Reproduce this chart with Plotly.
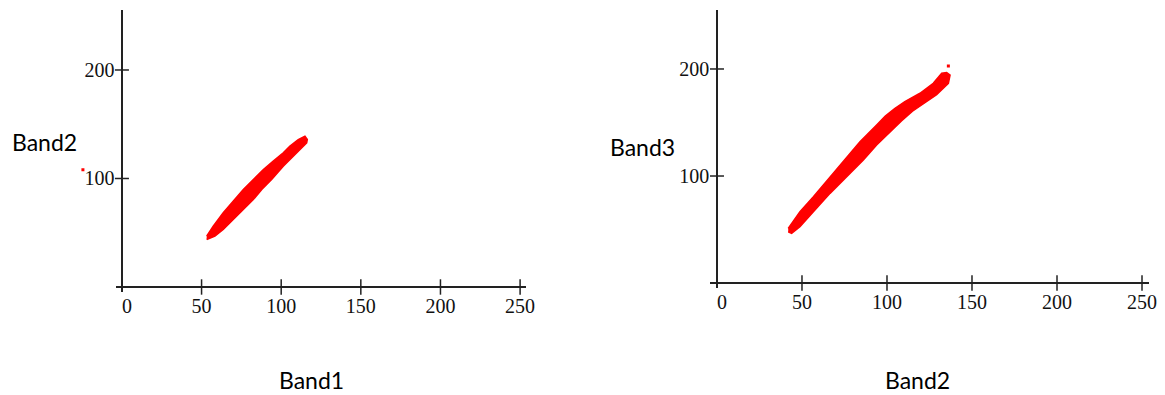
import plotly.graph_objects as go

# ---- data ----
x_ticks = [0, 50, 100, 150, 200, 250]
x_tick_text = ["\u00a0\u00a00", "50", "100", "150", "200", "250"]
y_ticks = [100, 200]
y_tick_text = ["100", "200"]

# Left panel: Band1 (x) vs Band2 (y) scatter cloud outline
left_upper_x = [53.2, 57.3, 63.6, 69.9, 76.2, 82.5, 88.8, 95.0, 101.3, 105.5, 110.7, 114.9, 116.4]
left_upper_y = [46.8, 56.0, 68.4, 79.1, 89.9, 99.1, 108.3, 116.0, 123.7, 129.8, 135.9, 139.0, 135.9]
left_lower_x = [116.0, 112.9, 107.6, 101.3, 94.0, 87.8, 82.5, 76.2, 69.9, 63.6, 58.4, 53.2]
left_lower_y = [132.9, 128.3, 120.6, 111.3, 99.1, 89.9, 80.6, 71.4, 62.2, 53.0, 46.8, 43.8]
left_outlier_x = [-24.5]
left_outlier_y = [108.0]

# Right panel: Band2 (x) vs Band3 (y) scatter cloud outline
right_upper_x = [41.9, 48.8, 56.7, 66.5, 76.3, 84.1, 93.9, 99.0, 104.5, 110.5, 119.4, 127.2, 132.2, 135.1]
right_upper_y = [51.1, 66.6, 80.7, 99.3, 118.0, 132.1, 147.7, 156.0, 163.0, 169.5, 177.3, 186.6, 196.0, 196.6]
right_lower_x = [137.1, 136.1, 129.2, 121.4, 115.0, 108.5, 101.8, 93.9, 86.1, 76.3, 66.5, 56.7, 48.8, 43.9, 41.9]
right_lower_y = [194.4, 186.6, 176.0, 167.5, 160.5, 151.5, 141.4, 129.0, 115.0, 99.3, 83.8, 66.6, 52.6, 46.4, 47.9]
right_outlier_x = [136.1]
right_outlier_y = [202.8]

labels = {"left_x": "Band1", "left_y": "Band2", "right_x": "Band2", "right_y": "Band3"}

RED = "#ff0000"
AX = "#222222"
TICK_FONT = dict(family="Liberation Serif, serif", size=20, color="#111111")
TITLE_FONT = dict(family="Lato, Open Sans, sans-serif", size=23, color="#000000")

X_RANGE = [-4, 254]
Y_RANGE = [-5, 255]
LEFT_XDOM = [0.0992, 0.4519]
LEFT_YDOM = [0.2597, 0.9739]
RIGHT_XDOM = [0.6096, 0.9861]
RIGHT_YDOM = [0.2699, 0.9744]

fig = go.Figure()


def add_panel(xa, ya, ux, uy, lx, ly, ox, oy, oxa, oya):
    fig.add_trace(go.Scatter(
        x=ux + lx, y=uy + ly, xaxis=xa, yaxis=ya, mode="lines",
        fill="toself", fillcolor=RED, line=dict(color=RED, width=1.5),
        showlegend=False, hoverinfo="skip"))
    # stray point(s): drawn on a wider, invisible axis pair with the same scale
    fig.add_trace(go.Scatter(
        x=ox, y=oy, xaxis=oxa, yaxis=oya, mode="markers",
        marker=dict(color=RED, size=3, symbol="square"),
        showlegend=False, hoverinfo="skip"))
    # crossing tick marks on the axes
    fig.add_trace(go.Scatter(
        x=x_ticks[1:], y=[0] * (len(x_ticks) - 1), xaxis=xa, yaxis=ya,
        mode="markers", cliponaxis=False,
        marker=dict(symbol="line-ns", size=11, line=dict(color=AX, width=1.5)),
        showlegend=False, hoverinfo="skip"))
    fig.add_trace(go.Scatter(
        x=[0] * len(y_ticks), y=y_ticks, xaxis=xa, yaxis=ya,
        mode="markers", cliponaxis=False,
        marker=dict(symbol="line-ew", size=10, line=dict(color=AX, width=1.5)),
        showlegend=False, hoverinfo="skip"))


add_panel("x", "y", left_upper_x, left_upper_y, left_lower_x, left_lower_y,
          left_outlier_x, left_outlier_y, "x3", "y3")
add_panel("x2", "y2", right_upper_x, right_upper_y, right_lower_x, right_lower_y,
          right_outlier_x, right_outlier_y, "x2", "y2")

xcommon = dict(range=X_RANGE, showgrid=False, showline=False, ticks="",
               zeroline=True, zerolinecolor=AX, zerolinewidth=1.5,
               tickvals=x_ticks, ticktext=x_tick_text, tickfont=TICK_FONT,
               fixedrange=True, automargin=False)
ycommon = dict(range=Y_RANGE, showgrid=False, showline=False, ticks="",
               zeroline=True, zerolinecolor=AX, zerolinewidth=1.5,
               tickvals=y_ticks, ticktext=y_tick_text, tickfont=TICK_FONT,
               fixedrange=True, automargin=False)

# wider invisible x axis for the left panel, same units-per-pixel as xaxis
W = 1165
left_px0 = LEFT_XDOM[0] * W
left_px1 = LEFT_XDOM[1] * W
px_per_unit = (left_px1 - left_px0) / (X_RANGE[1] - X_RANGE[0])
x3_range = [X_RANGE[0] - left_px0 / px_per_unit, X_RANGE[1]]

fig.update_layout(
    width=W, height=395, autosize=False,
    margin=dict(l=0, r=0, t=0, b=0, pad=0, autoexpand=False),
    paper_bgcolor="white", plot_bgcolor="rgba(0,0,0,0)",
    xaxis=dict(domain=LEFT_XDOM, anchor="y", **xcommon),
    yaxis=dict(domain=LEFT_YDOM, anchor="x", **ycommon),
    xaxis2=dict(domain=RIGHT_XDOM, anchor="y2", **xcommon),
    yaxis2=dict(domain=RIGHT_YDOM, anchor="x2", **ycommon),
    xaxis3=dict(domain=[0, LEFT_XDOM[1]], range=x3_range, anchor="y3",
                visible=False, showgrid=False, zeroline=False,
                fixedrange=True, automargin=False),
    yaxis3=dict(domain=LEFT_YDOM, range=Y_RANGE, anchor="x3",
                visible=False, showgrid=False, zeroline=False,
                fixedrange=True, automargin=False),
    annotations=[
        dict(text=labels["left_y"], xref="paper", yref="paper", x=44.5 / W, y=1 - 142 / 395,
             xanchor="center", yanchor="middle", showarrow=False, font=TITLE_FONT),
        dict(text=labels["left_x"], xref="paper", yref="paper", x=311.5 / W, y=1 - 380 / 395,
             xanchor="center", yanchor="middle", showarrow=False, font=TITLE_FONT),
        dict(text=labels["right_y"], xref="paper", yref="paper", x=642.5 / W, y=1 - 147 / 395,
             xanchor="center", yanchor="middle", showarrow=False, font=TITLE_FONT),
        dict(text=labels["right_x"], xref="paper", yref="paper", x=917 / W, y=1 - 380 / 395,
             xanchor="center", yanchor="middle", showarrow=False, font=TITLE_FONT),
    ],
)

fig.write_html("out.html", config={"displayModeBar": False, "responsive": False})

# remove the browser's default page margin so the figure sits at (0, 0)
with open("out.html", "r", encoding="utf-8") as f:
    html = f.read()
html = html.replace("<body>", '<body style="margin:0;padding:0;overflow:hidden">', 1)
with open("out.html", "w", encoding="utf-8") as f:
    f.write(html)
